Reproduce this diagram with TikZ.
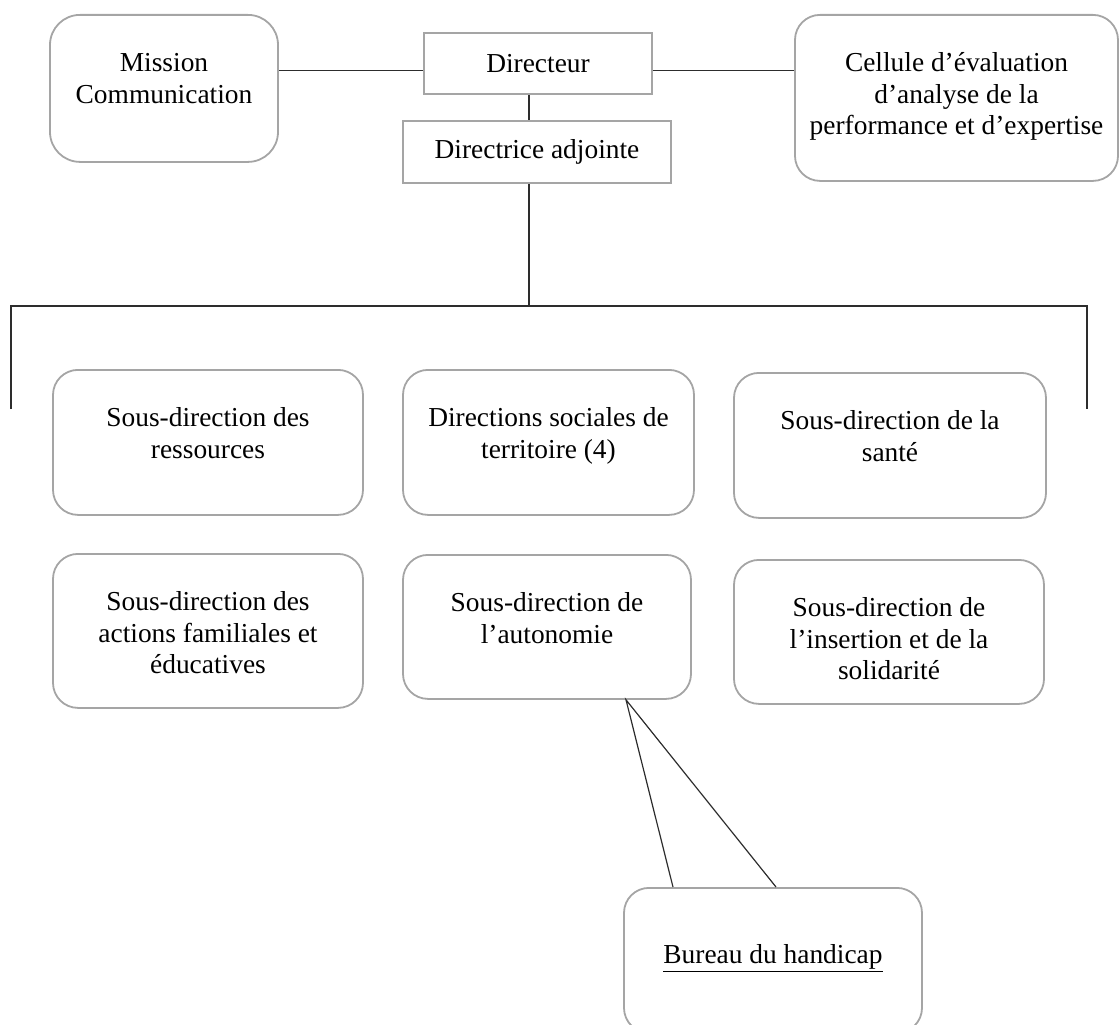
\documentclass[tikz,border=0pt]{standalone}
\usepackage{fontspec}
\setmainfont{Liberation Serif}
\definecolor{boxgray}{RGB}{165,165,165}
\definecolor{linkgray}{RGB}{45,45,45}
\tikzset{
  orgbox/.style 2 args={draw=boxgray, line width=1.8pt, rounded corners=25pt, align=center,
    anchor=north, inner xsep=0pt, inner ysep=0pt, text height=#1, text depth=#2},
  plainbox/.style={draw=boxgray, line width=1.8pt, align=center, inner sep=0pt},
  link/.style={draw=linkgray, line width=1.2pt}
}

\begin{document}
\begin{tikzpicture}[x=1pt, y=-1pt, font=\fontsize{27.4}{31.5}\selectfont]

  %% <spacing>
  \useasboundingbox (0,0) rectangle (1120,1025);
  % </spacing>

  %% head
  \node[plainbox, minimum width=228pt, minimum height=61pt] (dir) at (538,63.5) {Directeur};
  \node[plainbox, minimum width=268pt, minimum height=62pt] (adj) at (537,152) {Directrice adjointe};
  \node[orgbox={88.5pt}{58.5pt}, minimum width=228pt, rounded corners=30pt] (mission) at (164,14) {Mission\\Communication};
  \node[orgbox={120pt}{46pt}, minimum width=323pt] (cell) at (956.5,14) {Cellule d’évaluation\\d’analyse de la\\performance et d’expertise};

  %% sous-directions, first row
  \node[orgbox={88.5pt}{56.5pt}, minimum width=310pt] (res) at (208,369) {Sous-direction des\\ressources};
  \node[orgbox={88.5pt}{56.5pt}, minimum width=291pt] (dst) at (548.5,369) {Directions sociales de\\territoire (4)};
  \node[orgbox={88.5pt}{56.5pt}, minimum width=312pt] (sante) at (890,372) {Sous-direction de la\\santé};

  %% second row
  \node[orgbox={120pt}{34pt}, minimum width=310pt] (fam) at (208,553) {Sous-direction des\\actions familiales et\\éducatives};
  \node[orgbox={88.5pt}{55.5pt}, minimum width=288pt] (auto) at (547,554) {Sous-direction de\\l’autonomie};
  \node[orgbox={120pt}{24pt}, minimum width=310pt] (ins) at (889,559) {Sous-direction de\\l’insertion et de la\\solidarité};

  \node[orgbox={76pt}{69pt}, minimum width=298pt] (bur) at (773,887) {\underline{Bureau du handicap}};

  \coordinate (hub) at (529,306);
  \coordinate (lfoot) at (11,409);
  \coordinate (rfoot) at (1087,409);

  \draw[link] ([yshift=-7pt]dir.west) -- ([yshift=-7pt]dir.west -| mission.east); % dir - mission
  \draw[link] ([yshift=-7pt]dir.east) -- ([yshift=-7pt]dir.east -| cell.west); % dir - cell
  \draw[link] (dir.south -| hub) -- (adj.north -| hub); % dir - adj
  \draw[link] (adj.south -| hub) -- (hub);
  \draw[link] (lfoot) |- (hub) -| (rfoot);

  \draw[link] ([xshift=-100pt]bur.north) -- ([xshift=79pt]auto.south) -- ([xshift=3pt]bur.north); % auto - bur

\end{tikzpicture}
\end{document}
